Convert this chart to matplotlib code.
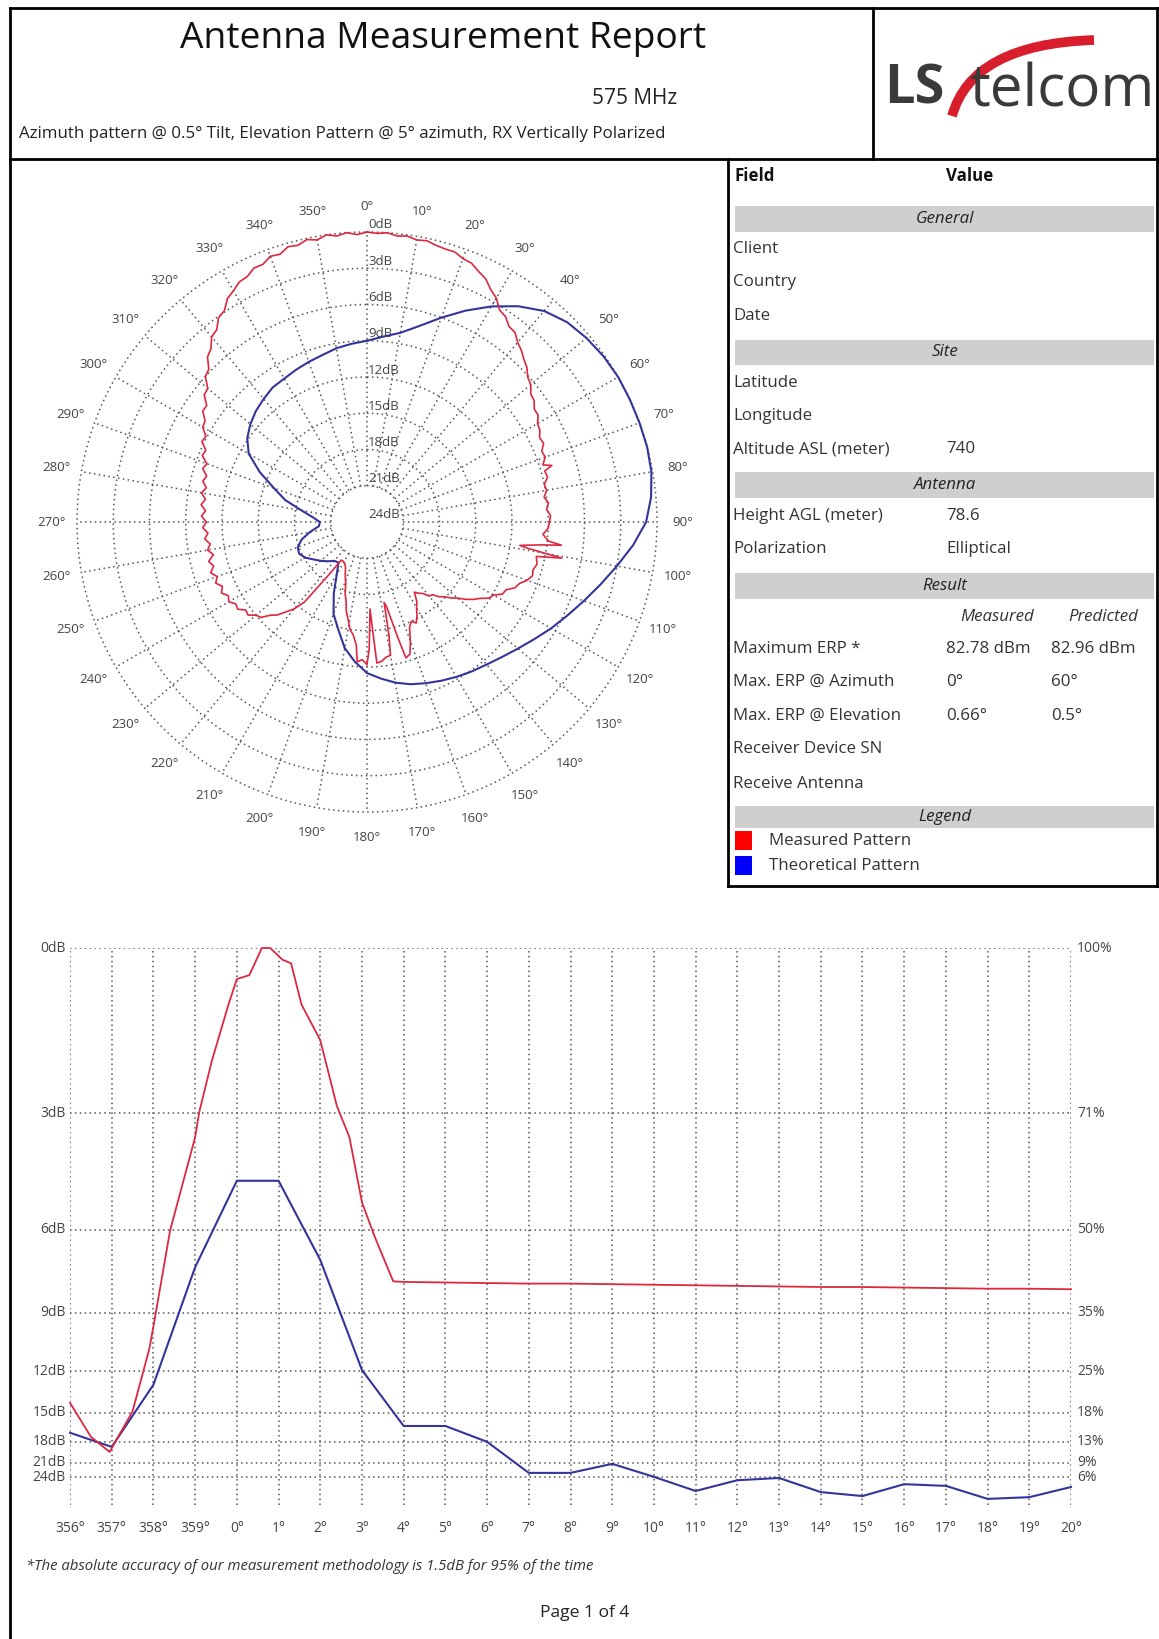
import numpy as np
import matplotlib
matplotlib.use('Agg')
import matplotlib.pyplot as plt
import matplotlib.transforms as mtransforms
from matplotlib.lines import Line2D
from matplotlib.patches import Rectangle, PathPatch
from matplotlib.path import Path

plt.rcParams['font.family'] = ['Open Sans', 'DejaVu Sans']

W, H = 1159, 1639

# ---- azimuth pattern (dB below max) ----
red_az = [0, 2, 4, 6, 8, 10, 12, 14, 16, 18, 20, 22, 24, 26, 28, 30, 32, 34, 36, 38,
          40, 42, 44, 46, 48, 50, 52, 54, 56, 58, 60, 62, 64, 66, 68, 70, 72, 73, 74, 76,
          78, 80, 82, 84, 86, 88, 90, 92, 94, 96, 96.8, 97.5, 98.7, 99.3, 100.5, 101.5, 104, 106, 108, 110,
          112, 114, 116, 118, 120, 122, 124, 126, 128, 130, 132, 134, 136, 138, 140, 142, 144, 146, 148, 150,
          152, 154, 156, 158, 160, 162, 164, 165, 167, 168, 169, 170, 172, 174, 176, 177, 178, 179, 180, 182,
          184, 185, 187, 189, 191, 193, 195, 197, 199, 201, 203, 205, 208, 211, 214, 216, 218, 220, 222, 224,
          226, 228, 230, 232, 234, 236, 238, 240, 242, 244, 246, 248, 250, 252, 254, 256, 258, 260, 262, 264,
          266, 268, 270, 272, 274, 276, 278, 280, 282, 284, 286, 288, 290, 292, 294, 296, 298, 300, 302, 304,
          306, 308, 310, 312, 314, 316, 318, 320, 322, 324, 326, 328, 330, 332, 334, 336, 338, 340, 342, 344,
          346, 348, 350, 352, 354, 356, 358, 360]
red_db = [0.0, 0.1, 0.0, 0.2, 0.1, 0.3, 0.2, 0.4, 0.5, 0.5, 0.8, 0.9, 1.3, 1.6, 2.2, 2.6, 3.3, 3.5, 4.0, 4.1,
          4.6, 4.9, 5.3, 5.6, 6.1, 6.3, 6.8, 6.9, 7.3, 7.3, 7.7, 7.8, 8.1, 8.0, 8.4, 8.3, 8.7, 8.0, 8.7, 8.6,
          9.0, 8.9, 9.2, 8.9, 9.1, 8.8, 8.9, 9.0, 9.4, 8.9, 7.8, 9.5, 11.2, 10.5, 7.6, 9.7, 9.5, 9.7, 9.6, 9.9,
          10.4, 10.6, 11.2, 11.3, 11.9, 12.1, 12.7, 13.1, 13.6, 14.2, 14.6, 15.1, 15.4, 15.9, 16.0, 16.5, 16.7, 17.0, 16.2, 15.8,
          15.2, 14.7, 15.0, 14.6, 13.5, 12.5, 12.3, 14.0, 16.8, 17.2, 14.5, 12.8, 12.7, 12.4, 12.3, 15.0, 16.8, 13.5, 12.2, 12.6,
          12.4, 13.8, 14.6, 15.0, 15.8, 16.4, 17.3, 17.8, 18.6, 19.0, 19.4, 19.8, 20.1, 20.2, 20.2, 18.5, 15.6, 14.6, 14.0, 13.3,
          12.9, 12.2, 12.0, 11.5, 11.6, 11.1, 11.2, 10.8, 11.0, 10.6, 10.9, 10.5, 10.8, 10.4, 10.8, 10.5, 11.0, 10.6, 10.9, 10.5,
          10.8, 10.4, 10.7, 10.3, 10.6, 10.2, 10.5, 10.1, 10.4, 10.0, 10.2, 9.7, 9.9, 9.3, 9.4, 8.8, 8.9, 8.3, 8.2, 7.6,
          7.6, 6.9, 6.8, 6.0, 5.8, 5.0, 4.7, 4.0, 3.8, 3.1, 2.9, 2.2, 1.9, 1.5, 1.4, 1.0, 1.0, 0.6, 0.7, 0.3,
          0.4, 0.1, 0.3, 0.0, 0.2, 0.0, 0.2, 0.0]

blue_az = [0, 5, 10, 15, 20, 25, 30, 35, 40, 45, 50, 55, 60, 65, 70, 75, 80, 85, 90, 95,
           100, 105, 110, 115, 120, 125, 130, 135, 140, 145, 150, 155, 160, 165, 170, 175, 180, 185, 190, 195,
           200, 205, 210, 215, 220, 225, 230, 235, 240, 245, 250, 255, 260, 265, 270, 275, 280, 285, 290, 295,
           300, 305, 310, 315, 320, 325, 330, 335, 340, 345, 350, 355, 360]
blue_db = [9.0, 8.6, 8.1, 7.2, 6.0, 4.7, 3.4, 2.2, 1.2, 0.6, 0.3, 0.1, 0.0, 0.0, 0.0, 0.0, 0.1, 0.4, 0.9, 1.9,
           3.0, 4.0, 4.9, 5.7, 6.4, 7.1, 7.7, 8.2, 8.6, 8.9, 9.2, 9.5, 9.8, 10.1, 10.5, 11.0, 11.5, 12.4, 13.4, 14.8,
           15.9, 17.5, 19.0, 19.9, 19.8, 19.4, 19.0, 18.6, 18.1, 17.8, 17.9, 18.4, 19.2, 20.0, 20.1, 19.5, 18.5, 17.0, 15.8, 14.2,
           12.7, 11.9, 11.4, 11.0, 10.7, 10.4, 10.3, 10.1, 9.9, 9.7, 9.4, 9.2, 9.0]

az_ticks = list(range(0, 360, 10))
ring_db = [0, 3, 6, 9, 12, 15, 18, 21]
ring_labels_db = [0, 3, 6, 9, 12, 15, 18, 21, 24]

# ---- elevation pattern (relative field) ----
elev_meas_x = [-4, -3.5, -3.05, -2.5, -2.1, -2.0, -1.6, -1.0, -0.9, -0.6, -0.2, 0.0, 0.3, 0.6, 0.8,
               1.1, 1.3, 1.55, 2.0, 2.4, 2.7, 3.0, 3.3, 3.75, 4, 5, 6, 7, 8, 9, 10, 11, 12, 13, 14,
               15, 16, 17, 18, 19, 20]
elev_meas_f = [0.195, 0.135, 0.108, 0.18, 0.29, 0.33, 0.50, 0.665, 0.71, 0.80, 0.90, 0.945, 0.952, 1.0, 1.0,
               0.979, 0.973, 0.90, 0.837, 0.72, 0.665, 0.55, 0.49, 0.41, 0.409, 0.408, 0.407, 0.406, 0.406, 0.405, 0.404, 0.403, 0.402, 0.401, 0.400,
               0.400, 0.399, 0.398, 0.397, 0.397, 0.396]
elev_theo_x = [-4, -3, -2, -1, 0, 1, 2, 3, 4, 5, 6, 7, 8, 9, 10, 11, 12, 13, 14, 15, 16, 17, 18, 19, 20]
elev_theo_f = [0.142, 0.117, 0.227, 0.435, 0.588, 0.588, 0.448, 0.253, 0.154, 0.154, 0.126, 0.071, 0.071, 0.087,
               0.064, 0.039, 0.058, 0.062, 0.037, 0.030, 0.051, 0.048, 0.025, 0.028, 0.046]
elev_ticks = list(range(-4, 21))
elev_tick_labels = ['356°', '357°', '358°', '359°'] + ['%d°' % d for d in range(0, 21)]
elev_db = [0, 3, 6, 9, 12, 15, 18, 21, 24]
elev_pct = ['100%', '71%', '50%', '35%', '25%', '18%', '13%', '9%', '6%']

# ---- table ----
rows = [('Client', '', ''), ('Country', '', ''), ('Date', '', ''),
        ('Latitude', '', ''), ('Longitude', '', ''), ('Altitude ASL (meter)', '740', ''),
        ('Height AGL (meter)', '78.6', ''), ('Polarization', 'Elliptical', ''),
        ('Maximum ERP *', '82.78 dBm', '82.96 dBm'), ('Max. ERP @ Azimuth', '0°', '60°'),
        ('Max. ERP @ Elevation', '0.66°', '0.5°'), ('Receiver Device SN', '', ''),
        ('Receive Antenna', '', '')]
row_y = [249, 282, 316, 383, 416, 449, 516, 549, 649, 682, 716, 749, 784]
bands = ['General', 'Site', 'Antenna', 'Result', 'Legend']
band_y = [(206, 232), (340, 365), (472, 498), (573, 599), (806, 828)]

RED = '#dc2840'
BLUE = '#34349c'
GRID = '#555555'
TXT = '#333333'
FS = 12.2

fig = plt.figure(figsize=(W / 100, H / 100), dpi=100)


def fx(x):
    return x / W


def fy(y):
    return 1 - y / H


def hline(x0, x1, y, lw=2.0, color='black'):
    fig.add_artist(Line2D([fx(x0), fx(x1)], [fy(y), fy(y)], transform=fig.transFigure, color=color, lw=lw))


def vline(x, y0, y1, lw=2.0, color='black'):
    fig.add_artist(Line2D([fx(x), fx(x)], [fy(y0), fy(y1)], transform=fig.transFigure, color=color, lw=lw))


# page frame / header
hline(10, 1159, 8)
hline(10, 1159, 159)
vline(10, 8, 1639)
vline(873, 8, 159)
vline(1157, 8, 886)

fig.text(fx(443), fy(39), 'Antenna Measurement Report', ha='center', va='center', fontsize=26.7, color='#111')
fig.text(fx(677), fy(99), '575 MHz', ha='right', va='center', fontsize=15, color='#222')
fig.text(fx(19), fy(134), 'Azimuth pattern @ 0.5° Tilt, Elevation Pattern @ 5° azimuth, RX Vertically Polarized',
         ha='left', va='center', fontsize=12.2, color='#222')

# logo
fig.text(fx(884), fy(90), 'LS', ha='left', va='center', fontsize=39, fontweight='bold', color='#3a3a3a')
fig.text(fx(969), fy(91), 'telcom', ha='left', va='center', fontsize=42, color='#3a3a3a')
swoosh = Path([(fx(952), fy(116)), (fx(972), fy(44)), (fx(1094), fy(40))],
              [Path.MOVETO, Path.CURVE3, Path.CURVE3])
fig.add_artist(PathPatch(swoosh, transform=fig.transFigure, fill=False, edgecolor='#d81e2c', lw=7))

# table
vline(728, 159, 886)
hline(728, 1159, 886)
fig.text(fx(734), fy(176), 'Field', ha='left', va='center', fontsize=FS, fontweight='bold', color='#111')
fig.text(fx(946), fy(176), 'Value', ha='left', va='center', fontsize=FS, fontweight='bold', color='#111')
for name, (y0, y1) in zip(bands, band_y):
    fig.add_artist(Rectangle((fx(735), fy(y1)), fx(1154) - fx(735), fy(y0) - fy(y1),
                             transform=fig.transFigure, facecolor='#cfcfcf', edgecolor='none'))
    fig.text(fx(945), fy((y0 + y1) / 2), name, ha='center', va='center', fontsize=FS,
             style='italic', color='#222')
for (label, v1, v2), y in zip(rows, row_y):
    fig.text(fx(733), fy(y), label, ha='left', va='center', fontsize=FS, color=TXT)
    fig.text(fx(946), fy(y), v1, ha='left', va='center', fontsize=FS, color=TXT)
    fig.text(fx(1051), fy(y), v2, ha='left', va='center', fontsize=FS, color=TXT)
fig.text(fx(960), fy(617), 'Measured', ha='left', va='center', fontsize=FS, style='italic', color=TXT)
fig.text(fx(1068), fy(617), 'Predicted', ha='left', va='center', fontsize=FS, style='italic', color=TXT)
for col, y, lab in [('#ff0000', 841, 'Measured Pattern'), ('#0000ff', 866, 'Theoretical Pattern')]:
    fig.add_artist(Rectangle((fx(735), fy(y + 9)), 17 / W, 19 / H, transform=fig.transFigure,
                             facecolor=col, edgecolor='none'))
    fig.text(fx(769), fy(y), lab, ha='left', va='center', fontsize=FS, color=TXT)

# ---- polar azimuth chart ----
cx, cy, R = 367, 522, 290
axp = fig.add_axes([fx(cx - R), fy(cy + R), 2 * R / W, 2 * R / H], projection='polar')
axp.set_theta_zero_location('N')
axp.set_theta_direction(-1)
axp.set_ylim(0, 24)
axp.set_axis_off()

circ = np.linspace(0, 2 * np.pi, 721)
for d in ring_db:
    axp.plot(circ, np.full_like(circ, 24 - d), ls=(0, (1, 2.2)), color=GRID, lw=1.1, clip_on=False)
for a in az_ticks:
    t = np.deg2rad(a)
    axp.plot([t, t], [3, 24], ls=(0, (1, 2.2)), color=GRID, lw=1.1, clip_on=False)
    axp.text(t, 26.1, '%d°' % a, ha='center', va='center', fontsize=9.5, color='#444')
lab_tr = mtransforms.offset_copy(axp.transData, fig=fig, x=1, y=7, units='dots')
for d in ring_labels_db:
    axp.text(0, 24 - d, '%ddB' % d, transform=lab_tr, ha='left', va='center', fontsize=9.5, color='#444')

axp.plot(np.deg2rad(blue_az), 24 - np.array(blue_db), color=BLUE, lw=1.5, clip_on=False, zorder=3)
axp.plot(np.deg2rad(red_az), 24 - np.array(red_db), color=RED, lw=1.2, clip_on=False, zorder=4)

# ---- elevation chart ----
axe = fig.add_axes([fx(70), fy(1513), 1001 / W, 565 / H])
axe.set_xlim(-4, 20)
axe.set_ylim(0, 1)
axe.set_axis_off()
for x in elev_ticks:
    axe.plot([x, x], [0.015, 1], ls=(0, (1, 2.2)), color=GRID, lw=1.1)
for d, p in zip(elev_db, elev_pct):
    f = 10 ** (-d / 20)
    axe.plot([-4, 20], [f, f], ls=(0, (1, 2.2)), color=GRID, lw=1.1)
    axe.text(-4.1, f, '%ddB' % d, ha='right', va='center', fontsize=10, color='#444')
    axe.text(20.15, f, p, ha='left', va='center', fontsize=10, color='#444')
for x, lab in zip(elev_ticks, elev_tick_labels):
    axe.text(x, -0.028, lab, ha='center', va='center', fontsize=10, color='#444')
axe.plot(elev_theo_x, elev_theo_f, color=BLUE, lw=1.5, clip_on=False)
axe.plot(elev_meas_x, elev_meas_f, color=RED, lw=1.3, clip_on=False)

fig.text(fx(26), fy(1566), '*The absolute accuracy of our measurement methodology is 1.5dB for 95% of the time',
         ha='left', va='center', fontsize=10.7, style='italic', color='#333')
fig.text(fx(585), fy(1613), 'Page 1 of 4', ha='center', va='center', fontsize=12.6, color='#222')

fig.savefig('out.png', dpi=100, facecolor='white')
